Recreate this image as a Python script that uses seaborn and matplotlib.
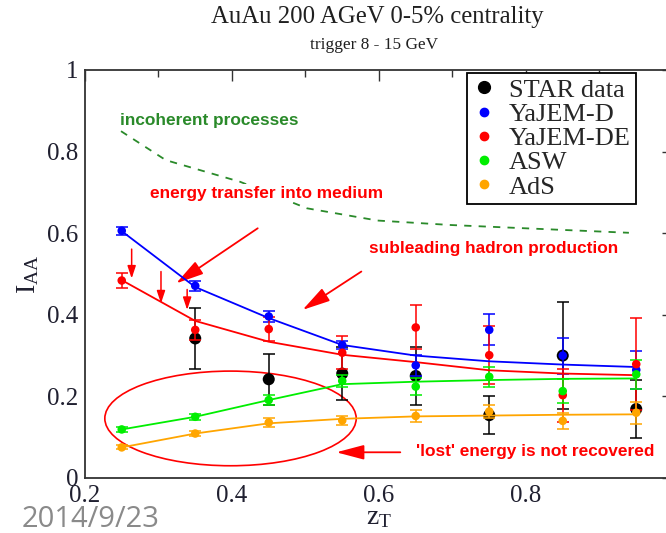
import pandas as pd
import matplotlib.pyplot as plt
import seaborn as sns
from matplotlib.patches import Ellipse
from matplotlib.lines import Line2D

# z_T bins
zt = [0.25, 0.35, 0.45, 0.55, 0.65, 0.75, 0.85, 0.95]

# STAR data
star_zt = [0.35, 0.45, 0.55, 0.65, 0.75, 0.85, 0.95]
star_iaa = [0.342, 0.242, 0.256, 0.250, 0.154, 0.300, 0.169]
star_err = [0.075, 0.062, 0.066, 0.072, 0.046, 0.132, 0.071]

# model points, errors and smooth curves
yajem_d = [0.606, 0.471, 0.396, 0.326, 0.276, 0.363, 0.300, 0.265]
yajem_d_err = [0.010, 0.012, 0.014, 0.010, 0.025, 0.038, 0.044, 0.046]
yajem_d_fit = [0.605, 0.468, 0.392, 0.326, 0.300, 0.286, 0.278, 0.272]

yajem_de = [0.484, 0.363, 0.365, 0.307, 0.369, 0.301, 0.203, 0.279]
yajem_de_err = [0.018, 0.024, 0.030, 0.040, 0.054, 0.071, 0.065, 0.112]
yajem_de_fit = [0.485, 0.385, 0.334, 0.302, 0.284, 0.264, 0.256, 0.252]

asw = [0.119, 0.150, 0.191, 0.238, 0.224, 0.248, 0.213, 0.254]
asw_err = [0.006, 0.008, 0.012, 0.015, 0.020, 0.024, 0.029, 0.035]
asw_fit = [0.119, 0.150, 0.191, 0.230, 0.236, 0.240, 0.243, 0.244]

ads = [0.075, 0.109, 0.136, 0.141, 0.152, 0.163, 0.140, 0.160]
ads_err = [0.005, 0.007, 0.010, 0.012, 0.014, 0.016, 0.020, 0.027]
ads_fit = [0.075, 0.109, 0.134, 0.145, 0.151, 0.153, 0.155, 0.156]

models = ['YaJEM-D', 'YaJEM-DE', 'ASW', 'AdS']
colors = {'YaJEM-D': '#0000ff', 'YaJEM-DE': '#ff0000', 'ASW': '#00ee00', 'AdS': '#ffa500'}

# hand drawn "incoherent processes" curve
inc_x = [0.249, 0.310, 0.411, 0.502, 0.598, 0.698, 0.799, 0.940]
inc_y = [0.850, 0.779, 0.726, 0.661, 0.631, 0.620, 0.612, 0.601]

points = pd.DataFrame({
    'zt': zt * 4,
    'iaa': yajem_d + yajem_de + asw + ads,
    'err': yajem_d_err + yajem_de_err + asw_err + ads_err,
    'fit': yajem_d_fit + yajem_de_fit + asw_fit + ads_fit,
    'model': [m for m in models for _ in zt],
})

sns.set_theme(style='white')
plt.rcParams['font.family'] = ['Liberation Serif', 'DejaVu Serif']
plt.rcParams['mathtext.fontset'] = 'custom'
plt.rcParams['mathtext.rm'] = 'Liberation Serif'

fig = plt.figure(figsize=(6.66, 5.33), dpi=100)
ax = fig.add_axes([0.1276, 0.1032, 0.8829, 0.7655])

# STAR data first (behind the models)
ax.errorbar(star_zt, star_iaa, yerr=star_err, fmt='none', ecolor='black',
            elinewidth=1.1, capsize=4.5, capthick=1.1, zorder=2)
sns.scatterplot(x=star_zt, y=star_iaa, color='black', s=75, edgecolor='none',
                ax=ax, zorder=3, legend=False)

for m in models:
    sub = points[points['model'] == m]
    ax.errorbar(sub['zt'], sub['iaa'], yerr=sub['err'], fmt='none', ecolor=colors[m],
                elinewidth=1.1, capsize=4.5, capthick=1.1, zorder=4)

sns.lineplot(data=points, x='zt', y='fit', hue='model', palette=colors,
             linewidth=1.3, ax=ax, legend=False, zorder=4)
sns.scatterplot(data=points, x='zt', y='iaa', hue='model', palette=colors,
                s=38, edgecolor='none', ax=ax, legend=False, zorder=5)

# annotations
ax.plot(inc_x, inc_y, color='#2a8a2a', linestyle=(0, (4, 4)), linewidth=1.3)
sans = ['Liberation Sans', 'DejaVu Sans']
ax.text(0.247, 0.877, 'incoherent processes', color='#2a8a2a', fontsize=12.4,
        fontweight='bold', family=sans, va='center')
ax.text(0.289, 0.698, 'energy transfer into medium', color='red', fontsize=12.4,
        fontweight='bold', family=sans, va='center',
        bbox=dict(facecolor='white', edgecolor='none', pad=1))
ax.text(0.587, 0.563, 'subleading hadron production', color='red', fontsize=12.4,
        fontweight='bold', family=sans, va='center')
ax.text(0.650, 0.065, "'lost' energy is not recovered", color='red', fontsize=12.4,
        fontweight='bold', family=sans, va='center')

big = dict(arrowstyle='-|>,head_length=1.7,head_width=0.45', color='red',
           lw=1.3, mutation_scale=10, shrinkA=0, shrinkB=0)
small = dict(arrowstyle='-|>,head_length=0.75,head_width=0.25', color='red',
             lw=1.1, mutation_scale=10, shrinkA=0, shrinkB=0)
ax.annotate('', xy=(0.324, 0.477), xytext=(0.435, 0.612), arrowprops=big)
ax.annotate('', xy=(0.496, 0.412), xytext=(0.576, 0.506), arrowprops=big)
ax.annotate('', xy=(0.542, 0.063), xytext=(0.629, 0.063), arrowprops=big)
ax.annotate('', xy=(0.2635, 0.489), xytext=(0.2635, 0.561), arrowprops=small)
ax.annotate('', xy=(0.3034, 0.428), xytext=(0.3034, 0.506), arrowprops=small)
ax.annotate('', xy=(0.339, 0.412), xytext=(0.339, 0.462), arrowprops=small)

ax.add_patch(Ellipse((0.398, 0.146), 0.342, 0.232, fill=False,
                     edgecolor='red', linewidth=1.2))

# axes styling
ax.set_xlim(0.2, 1.0)
ax.set_ylim(0, 1)
ax.set_xticks([0.2, 0.4, 0.6, 0.8])
ax.set_xticklabels(['0.2', '0.4', '0.6', '0.8'])
ax.set_xticks([0.3, 0.5, 0.7, 0.9], minor=True)
ax.set_yticks([0, 0.2, 0.4, 0.6, 0.8, 1.0])
ax.set_yticklabels(['0', '0.2', '0.4', '0.6', '0.8', '1'])
ax.set_yticks([0.1, 0.3, 0.5, 0.7, 0.9], minor=True)
ax.tick_params(which='both', direction='in', top=True, right=True,
               labelsize=18, labelcolor='#202030', color='#333333', width=1)
ax.tick_params(which='major', length=8, pad=5)
ax.tick_params(which='minor', length=5)
for s in ax.spines.values():
    s.set_color('#333333')
    s.set_linewidth(1.3)

ax.set_xlabel(r'$\mathrm{z_T}$', fontsize=20, color='#202030', labelpad=-1)
ax.set_ylabel(r'$\mathrm{I_{AA}}$', fontsize=20, color='#202030', labelpad=4)

handles = [Line2D([], [], marker='o', linestyle='none', color='black', markersize=8.5)]
handles += [Line2D([], [], marker='o', linestyle='none', color=colors[m], markersize=6)
            for m in models]
leg = ax.legend(handles, ['STAR data'] + models, loc='upper right',
                bbox_to_anchor=(0.937, 0.993), borderaxespad=0, fontsize=19,
                labelspacing=0.03, handlelength=0.95, handletextpad=0.45,
                borderpad=0.2, fancybox=False, framealpha=1)
leg.get_frame().set_edgecolor('black')
leg.get_frame().set_linewidth(1.3)

fig.text(0.566, 0.968, 'AuAu 200 AGeV 0-5% centrality', ha='center', va='center',
         fontsize=17.8, color='#202020')
fig.text(0.561, 0.916, 'trigger 8 - 15 GeV', ha='center', va='center',
         fontsize=12.4, color='#202020')
fig.text(0.033, 0.025, '2014/9/23', ha='left', va='center', fontsize=21,
         color='#8a8a8a', family=['Open Sans', 'DejaVu Sans'])

fig.savefig('out.png', dpi=100)
